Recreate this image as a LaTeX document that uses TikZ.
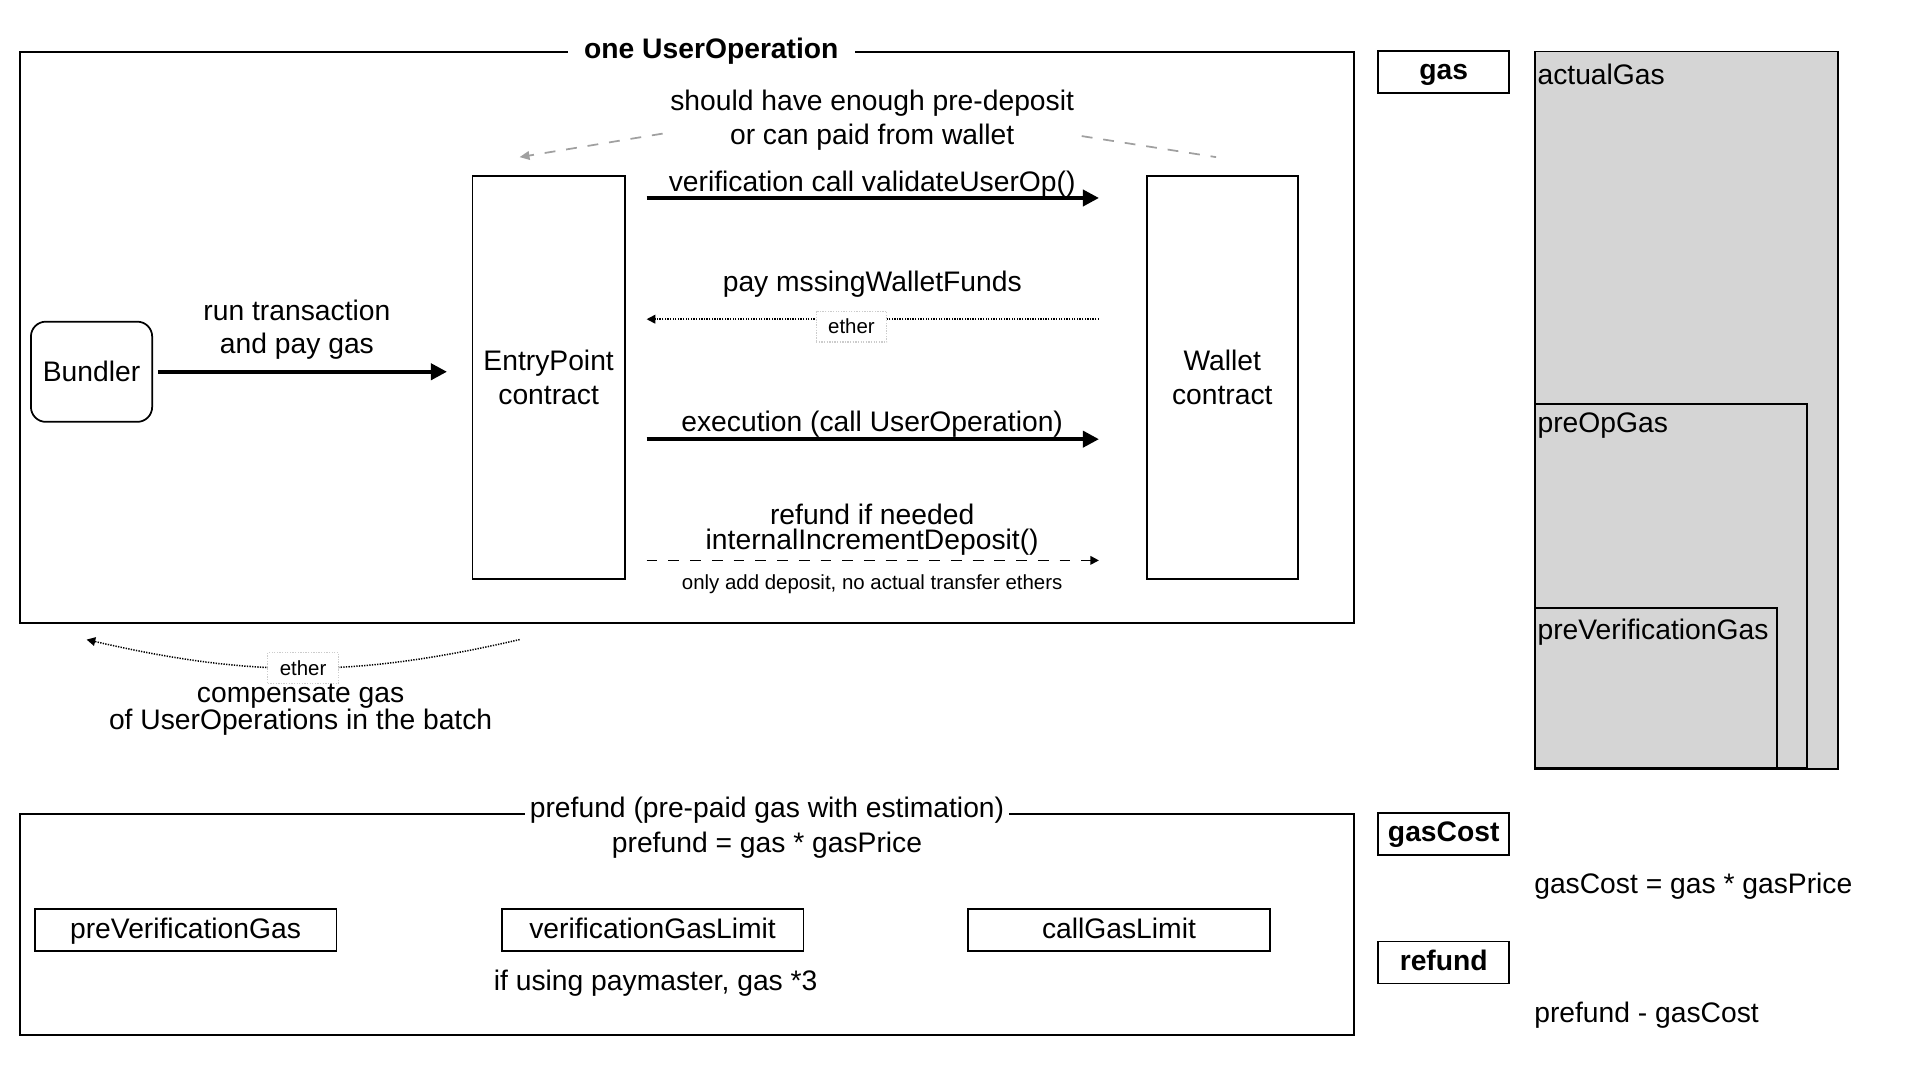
\documentclass[tikz,border=0pt]{standalone}
\usepackage{fontspec}
\setmainfont{Liberation Sans}
\usetikzlibrary{arrows.meta}

\definecolor{gasgray}{HTML}{D5D5D5}
\definecolor{notegray}{HTML}{A0A0A0}
\definecolor{ethergray}{HTML}{CCCCCC}

\begin{document}
\begin{tikzpicture}[
        x=0.02cm, y=-0.02cm,
        every node/.style={font=\fontsize{13}{15.5}\selectfont, align=center},
        box/.style={rectangle, draw, line width=0.8pt, inner sep=0pt, align=center},
        framebox/.style={rectangle, draw, line width=0.9pt, inner sep=0pt, anchor=north west},
        frametitle/.style={fill=white, inner xsep=0.08cm, inner ysep=1pt},
        boldbox/.style={box, font=\fontsize{13}{15.5}\selectfont\bfseries, minimum width=2.12cm, minimum height=0.68cm, text height=0.72em, text depth=0pt},
        limitbox/.style={box, minimum width=4.88cm, minimum height=0.68cm, text height=0.72em, text depth=0pt},
        gasbox/.style={rectangle, draw, line width=0.8pt, fill=gasgray, inner sep=0pt},
        gaslabel/.style={anchor=west, inner xsep=0.05cm},
        smalltext/.style={font=\fontsize{9.4}{11}\selectfont},
        etherbox/.style={smalltext, draw=ethergray, fill=white, line width=0.6pt, minimum width=1.14cm, minimum height=0.5cm, inner sep=0pt},
        arrow/.style={-{Triangle[length=0.26cm, width=0.26cm]}, line width=1.7pt},
        dotarrow/.style={-{Triangle[length=0.14cm, width=0.14cm]}, line width=0.7pt, dash pattern=on 0.6pt off 0.6pt},
        dasharrow/.style={-{Triangle[length=0.14cm, width=0.14cm]}, line width=0.8pt, dash pattern=on 5pt off 5pt},
        noteline/.style={notegray, line width=0.8pt, dash pattern=on 5pt off 5pt},
        notearrow/.style={noteline, -{Triangle[length=0.16cm, width=0.14cm]}}
    ]
        \useasboundingbox (0,0) rectangle (1552,873);

        % UserOperation frame
        \node[framebox, minimum width=21.58cm, minimum height=9.24cm] (userop) at (15,41) {};
        \node[frametitle, inner xsep=0.26cm, font=\fontsize{13}{15.5}\selectfont\bfseries] (useroptitle) at (575,41) {one UserOperation};

        % Actors
        \node[box, rounded corners=0.24cm, minimum width=1.96cm, minimum height=1.62cm] (bundler) at (74,300.5) {Bundler};
        \node[box, minimum width=2.46cm, minimum height=6.52cm] (entry) at (443.5,305) {EntryPoint\\contract};
        \node[box, minimum width=2.44cm, minimum height=6.52cm] (wallet) at (988,305) {Wallet\\contract};

        % Bundler calls EntryPoint
        \draw[arrow, shorten <=0.08cm, shorten >=0.4cm] (bundler.east) -- (bundler.east -| entry.west)
            node[midway, xshift=-0.25cm, yshift=0.68cm] {run transaction\\and pay gas};

        % EntryPoint <-> Wallet
        \draw[arrow, shorten <=0.34cm, shorten >=0.76cm] ([yshift=2.9cm]entry.east) -- ([yshift=2.9cm]wallet.west)
            node[midway, xshift=-0.22cm, yshift=0.22cm] {verification call validateUserOp()};
        \draw[dotarrow, shorten <=0.76cm, shorten >=0.34cm] ([yshift=0.94cm]wallet.west) -- ([yshift=0.94cm]entry.east)
            node[pos=0.526, yshift=0.56cm] {pay mssingWalletFunds}
            node[etherbox, pos=0.566, yshift=-0.12cm] {ether};
        \draw[arrow, shorten <=0.34cm, shorten >=0.76cm] ([yshift=-1cm]entry.east) -- ([yshift=-1cm]wallet.west)
            node[midway, xshift=-0.22cm, yshift=0.24cm] {execution (call UserOperation)};
        \draw[dasharrow, shorten <=0.34cm, shorten >=0.76cm] ([yshift=-2.96cm]entry.east) -- ([yshift=-2.96cm]wallet.west)
            node[midway, xshift=-0.22cm, yshift=0.5cm, font=\fontsize{13}{11.4}\selectfont] {refund if needed\\internalIncrementDeposit()}
            node[midway, xshift=-0.22cm, yshift=-0.38cm, smalltext] {only add deposit, no actual transfer ethers};

        % Deposit note
        \node (deposit) at (705,97) {should have enough pre-deposit\\or can paid from wallet};
        \coordinate (depositL) at (420,127);
        \coordinate (depositR) at (983,127);
        \draw[notearrow] ([yshift=-0.22cm]deposit.west) -- (depositL);
        \draw[noteline] ([yshift=-0.26cm]deposit.east) -- (depositR);

        % Compensation to bundler
        \coordinate (compS) at (420,517);
        \coordinate (compE) at (70,517);
        \draw[dotarrow] (compS) to[bend left=13] node[etherbox] {ether} (compE);
        \node[font=\fontsize{13}{12.5}\selectfont] (compensate) at (243,574) {compensate gas\\of UserOperations in the batch};

        % Prefund frame
        \node[framebox, minimum width=21.58cm, minimum height=3.58cm] (prefund) at (15,657) {};
        \node[frametitle] (prefundtitle) at (620,655) {prefund (pre-paid gas with estimation)};
        \node (prefundeq) at (620,683) {prefund = gas * gasPrice};
        \node[limitbox] (preverif) at (150,752) {preVerificationGas};
        \node[limitbox] (veriflimit) at (527.5,752) {verificationGasLimit};
        \node[limitbox] (calllimit) at (904.5,752) {callGasLimit};
        \node (paymaster) at (530,795) {if using paymaster, gas *3};

        % Gas terms
        \node[boldbox] (gas) at (1167,58) {gas};
        \node[boldbox] (gascost) at (1167,674) {gasCost};
        \node[boldbox] (refund) at (1167,778) {refund};
        \node[anchor=west] (gascosteq) at (1234,716) {gasCost = gas * gasPrice};
        \node[anchor=west] (refundeq) at (1234,821) {prefund - gasCost};

        % Gas bars
        \node[gasbox, anchor=north west, minimum width=4.9cm, minimum height=11.6cm] (actualgas) at (1240,41) {};
        \node[gasbox, anchor=south west, minimum width=4.4cm, minimum height=5.88cm] (preopgas) at (1240,621) {};
        \node[gasbox, anchor=south west, minimum width=3.92cm, minimum height=2.58cm] (preverifgas) at (1240,621) {};
        \node[gaslabel] (actualgaslabel) at ([yshift=-0.38cm]actualgas.north west) {actualGas};
        \node[gaslabel] (preopgaslabel) at ([yshift=-0.36cm]preopgas.north west) {preOpGas};
        \node[gaslabel] (preverifgaslabel) at ([yshift=-0.4cm]preverifgas.north west) {preVerificationGas};
    \end{tikzpicture}
\end{document}
